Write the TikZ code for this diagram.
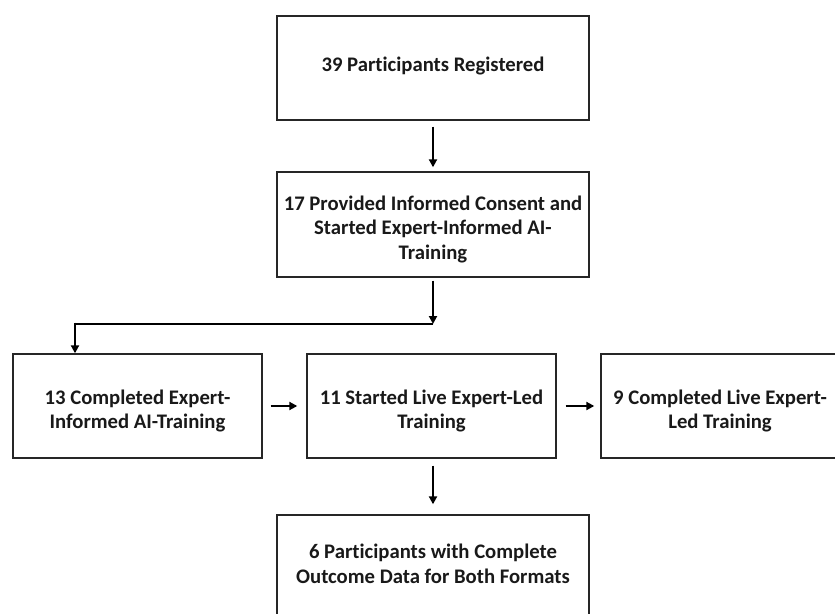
\documentclass[tikz,border=0pt]{standalone}
\usepackage{fontspec}
\setmainfont{Carlito}[Ligatures=CommonOff]
\usetikzlibrary{arrows.meta}
\begin{document}
\begin{tikzpicture}[x=1pt,y=-1pt,
  box/.style={draw=black!85,line width=1.4pt,rectangle,inner sep=0pt},
  txt/.style={inner sep=0pt,align=center,font=\bfseries\fontsize{20.7}{24.5}\selectfont,text=black!90},
  arr/.style={line width=2.6pt,-{Triangle[length=8pt,width=8pt]}},
  ln/.style={line width=2.6pt}]
\useasboundingbox (0,0) rectangle (835,613);
\clip (0,0) rectangle (835,613);
\node[box,minimum width=312pt,minimum height=104pt] (b1) at (433,68) {};
\node[box,minimum width=312pt,minimum height=105pt] (b2) at (433,224.5) {};
\node[box,minimum width=249pt,minimum height=104pt] (b3) at (137.5,406) {};
\node[box,minimum width=249pt,minimum height=104pt] (b4) at (431.5,406) {};
\node[box,minimum width=238pt,minimum height=104pt] (b5) at (720,406) {};
\node[box,minimum width=312pt,minimum height=130pt] (b6) at (433,580) {};
\node[txt] (t1) at (433,66) {39 Participants Registered};
\node[txt] (t2) at (433,229) {17 Provided Informed Consent and\\Started Expert-Informed AI-\\Training};
\node[txt] (t3) at (137.5,411) {13 Completed Expert-\\Informed AI-Training};
\node[txt] (t4) at (431.5,411) {11 Started Live Expert-Led\\Training};
\node[txt] (t5) at (720,411) {9 Completed Live Expert-\\Led Training};
\node[txt] (t6) at (433,564) {6 Participants with Complete\\Outcome Data for Both Formats};
\coordinate (c1) at (433,324);
\draw[arr,shorten <=6pt,shorten >=4pt] (b1.south -| 433,0) -- (b2.north -| 433,0);
\draw[arr,shorten <=3pt] (b2.south -| c1) -- (c1);
\draw[ln] (c1) -- (75,324);
\draw[arr] (75,322.7) -- (b3.north -| 75,0);
\draw[arr,shorten <=8pt,shorten >=9pt] (b3.east) -- (b4.west);
\draw[arr,shorten <=9pt,shorten >=6pt] (b4.east) -- (b5.west);
\draw[arr,shorten <=7pt,shorten >=10pt] (b4.south -| 433,0) -- (b6.north -| 433,0);
\end{tikzpicture}
\end{document}
